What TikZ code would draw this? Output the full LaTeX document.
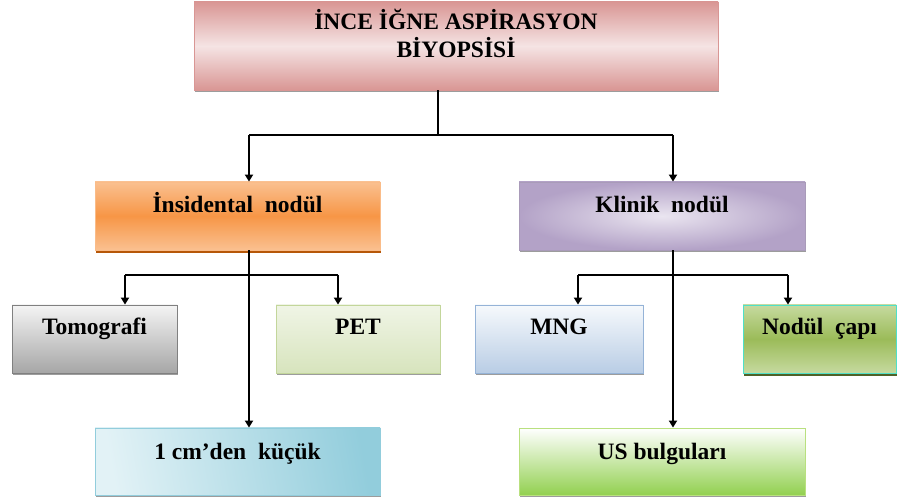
\documentclass[tikz,border=0pt]{standalone}
\usepackage{fontspec}
\setmainfont{Liberation Serif}
\usetikzlibrary{arrows.meta,shadows}
\definecolor{pinkD}{HTML}{D99694}
\definecolor{pinkL}{HTML}{F5E4E4}
\definecolor{orM}{HTML}{F79646}
\definecolor{orL}{HTML}{FAC090}
\definecolor{orS}{HTML}{B65708}
\definecolor{puD}{HTML}{B3A2C7}
\definecolor{puL}{HTML}{EAE5F0}
\definecolor{grB}{HTML}{A6A6A6}
\definecolor{grT}{HTML}{F4F4F4}
\definecolor{petT}{HTML}{F0F5E6}
\definecolor{petB}{HTML}{D7E4BD}
\definecolor{petE}{HTML}{C3D69B}
\definecolor{mngT}{HTML}{F6F9FC}
\definecolor{mngB}{HTML}{B9CDE5}
\definecolor{mngE}{HTML}{95B3D7}
\definecolor{ndM}{HTML}{9BBB59}
\definecolor{ndL}{HTML}{C6DA9F}
\definecolor{ndE}{HTML}{4FE0C8}
\definecolor{ndS}{HTML}{4F6228}
\definecolor{cmD}{HTML}{92CDDC}
\definecolor{cmL}{HTML}{E2F2F6}
\definecolor{usB}{HTML}{92D050}
\definecolor{usE}{HTML}{B9E07F}
\tikzset{
  x=1pt, y=-1pt,
  box/.style={draw, line width=0.8pt, inner sep=0pt, align=center,
    font=\fontsize{23.5}{28}\selectfont\bfseries,
    text height=31pt, text depth=37pt,
    drop shadow={shadow xshift=1.2pt, shadow yshift=-2.5pt, opacity=0.55, fill=black!70}},
  arr/.style={line width=1.8pt, -{Triangle[width=8pt,length=7pt]}},
  ln/.style={line width=1.8pt}
}
\begin{document}
\begin{tikzpicture}
\useasboundingbox[fill=white] (0,0) rectangle (898,502);
% boxes
\node[box, draw=pinkD, minimum width=524pt, text height=56pt, text depth=32pt,
  top color=pinkD, bottom color=pinkD, middle color=pinkL] (top) at (456,46)
  {İNCE İĞNE ASPİRASYON\\BİYOPSİSİ};
\node[box, draw=orL!90!orM, minimum width=285pt, top color=orL, bottom color=orL, middle color=orM,
  drop shadow={shadow xshift=0.5pt, shadow yshift=-3pt, opacity=1, fill=orS}] (inc) at (237.5,216) {İnsidental\ \ nodül};
\node[box, draw=puD!80!gray, minimum width=286pt, inner color=puL, outer color=puD] (kli) at (662,216) {Klinik\ \ nodül};
\node[box, draw=gray, minimum width=165pt, text height=30pt, text depth=38pt, top color=grT, bottom color=grB] (tom) at (94.5,339) {Tomografi};
\node[box, draw=petE, minimum width=164pt, text height=30pt, text depth=38pt, top color=petT, bottom color=petB] (pet) at (358,339) {PET};
\node[box, draw=mngE, minimum width=168pt, text height=30pt, text depth=38pt, top color=mngT, bottom color=mngB] (mng) at (559,339) {MNG};
\node[box, draw=ndE, minimum width=153pt, text height=30pt, text depth=38pt, top color=ndL, bottom color=ndL, middle color=ndM,
  drop shadow={shadow xshift=0.5pt, shadow yshift=-3pt, opacity=1, fill=ndS}] (nod) at (819.5,339) {Nodül\ \ çapı};
\node[box, draw=cmD, minimum width=285pt, text height=32pt, text depth=35pt,
  left color=cmL, right color=cmD, shading angle=100] (cm) at (237.5,461.5) {1 cm’den\ \ küçük};
\node[box, draw=usE, minimum width=286pt, text height=32pt, text depth=35pt,
  top color=white, bottom color=usB] (us) at (662,461.5) {US bulguları};
% connectors
\coordinate (j1) at (438,135);
\coordinate (a1) at (249,135);
\coordinate (a2) at (673,135);
\coordinate (b1) at (125,275);
\coordinate (b2) at (338,275);
\coordinate (c1) at (578,275);
\coordinate (c2) at (788,275);
\draw[ln] (top.south -| j1) -- (j1);
\draw[ln] (a1) -- (a2);
\draw[arr] (a1) -- (a1 |- inc.north);
\draw[arr] (a2) -- (a2 |- kli.north);
\draw[arr] (a1 |- inc.south) -- (a1 |- cm.north);
\draw[ln] (b1) -- (b2);
\draw[arr] (b1) -- (b1 |- tom.north);
\draw[arr] (b2) -- (b2 |- pet.north);
\draw[arr] (a2 |- kli.south) -- (a2 |- us.north);
\draw[ln] (c1) -- (c2);
\draw[arr] (c1) -- (c1 |- mng.north);
\draw[arr] (c2) -- (c2 |- nod.north);
\end{tikzpicture}
\end{document}
